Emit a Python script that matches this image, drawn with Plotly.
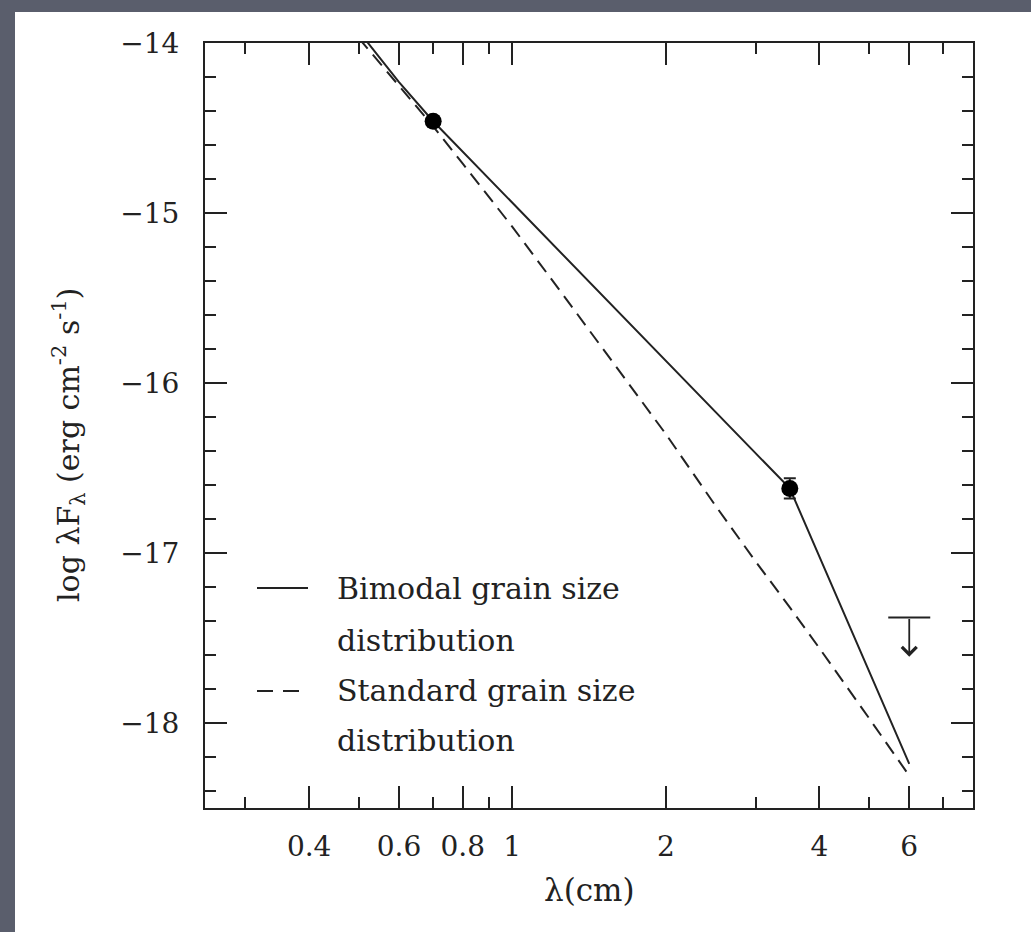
import math
import plotly.graph_objects as go

# ---------------- data ----------------
bimodal_x = [0.5, 0.6, 0.7, 1.0, 2.0, 3.5, 6.0]
bimodal_y = [-13.93, -14.23, -14.46, -14.94, -15.87, -16.62, -18.24]

standard_x = [0.5, 0.6, 0.7, 0.8, 1.0, 1.25, 1.5, 2.0, 2.5, 3.0, 3.5, 4.0, 5.0, 6.0]
standard_y = [-13.97, -14.25, -14.49, -14.71, -15.08, -15.47, -15.79, -16.30,
              -16.72, -17.05, -17.32, -17.56, -17.97, -18.31]

obs_x = [0.7, 3.5]
obs_y = [-14.46, -16.62]
obs_err = [0.03, 0.06]

limit_x = [6.0]
limit_y = [-17.38]
limit_arrow = 0.23

x_tick_vals = [0.4, 0.6, 0.8, 1, 2, 4, 6]
x_tick_text = ["0.4", "0.6", "0.8", "1", "2", "4", "6"]
x_minor_vals = [0.3, 0.5, 0.7, 0.9, 3, 5, 7]
y_tick_vals = [-14, -15, -16, -17, -18]
x_range = [0.25, 8.0]
y_range = [-18.5, -14.0]

legend_solid = ["Bimodal grain size", "distribution"]
legend_dash = ["Standard grain size", "distribution"]
x_title = "λ(cm)"
y_title = "log λF<sub>λ</sub> (erg cm<sup>-2</sup> s<sup>-1</sup>)"

# ---------------- layout geometry ----------------
W, H = 1031, 932
ML, MR, MT, MB = 205, 58, 43, 124
PW, PH = W - ML - MR, H - MT - MB


def px(xp):
    return (xp - ML) / PW


def py(yp):
    return (H - MB - yp) / PH


INK = "#222222"
FONT = "DejaVu Serif"

fig = go.Figure()

fig.add_trace(go.Scatter(x=standard_x, y=standard_y, mode="lines",
                         line=dict(color=INK, width=2, dash="14px,8px"),
                         showlegend=False, hoverinfo="skip"))
fig.add_trace(go.Scatter(x=bimodal_x, y=bimodal_y, mode="lines",
                         line=dict(color=INK, width=2),
                         showlegend=False, hoverinfo="skip"))
fig.add_trace(go.Scatter(x=obs_x, y=obs_y, mode="markers",
                         marker=dict(color="black", size=17),
                         error_y=dict(type="data", array=obs_err, color=INK,
                                      thickness=2, width=6),
                         showlegend=False))
fig.add_trace(go.Scatter(x=limit_x, y=limit_y, mode="markers",
                         marker=dict(symbol="line-ew", size=30,
                                     line=dict(color=INK, width=2)),
                         showlegend=False))

annotations = []
for lx, ly in zip(limit_x, limit_y):
    annotations.append(dict(
        x=math.log10(lx), y=ly - limit_arrow, ax=math.log10(lx), ay=ly,
        xref="x", yref="y", axref="x", ayref="y", text="",
        showarrow=True, arrowhead=4, arrowsize=1.6, arrowwidth=1.8,
        arrowcolor=INK, standoff=0, startstandoff=0))

# legend drawn by hand
legend_rows_y = [588, 640, 690, 740]
texts = legend_solid + legend_dash
for t, yy in zip(texts, legend_rows_y):
    annotations.append(dict(x=px(335), y=py(yy), xref="paper", yref="paper",
                            text=t, showarrow=False, xanchor="left",
                            yanchor="middle",
                            font=dict(family=FONT, size=30, color=INK)))

annotations.append(dict(x=px(589), y=py(890), xref="paper", yref="paper",
                        text=x_title, showarrow=False, xanchor="center",
                        yanchor="middle",
                        font=dict(family=FONT, size=31, color=INK)))
annotations.append(dict(x=px(68), y=py(445), xref="paper", yref="paper",
                        text=y_title, showarrow=False, xanchor="center",
                        yanchor="middle", textangle=-90,
                        font=dict(family=FONT, size=30, color=INK)))

shapes = [
    # white page on dark slide background
    dict(type="rect", xref="paper", yref="paper", layer="below",
         x0=px(15), x1=px(W + 5), y0=py(12), y1=py(H + 5),
         fillcolor="white", line=dict(width=0)),
    # legend samples
    dict(type="line", xref="paper", yref="paper",
         x0=px(257), x1=px(308), y0=py(588), y1=py(588),
         line=dict(color=INK, width=2)),
    dict(type="line", xref="paper", yref="paper",
         x0=px(257), x1=px(299), y0=py(691), y1=py(691),
         line=dict(color=INK, width=2, dash="16px,10px")),
]

axis_common = dict(showline=True, linewidth=2, linecolor=INK, mirror="allticks",
                   ticks="inside", tickwidth=2, tickcolor=INK, ticklen=22,
                   showgrid=False, zeroline=False,
                   tickfont=dict(family=FONT, size=28, color=INK))

fig.update_xaxes(type="log", range=[math.log10(x_range[0]), math.log10(x_range[1])],
                 tickmode="array", tickvals=x_tick_vals, ticktext=x_tick_text,
                 minor=dict(tickmode="array", tickvals=x_minor_vals, ticklen=11,
                            tickwidth=2, tickcolor=INK, ticks="inside", showgrid=False),
                 ticklabelstandoff=12, **axis_common)
fig.update_yaxes(range=y_range, tickmode="array", tickvals=y_tick_vals,
                 minor=dict(dtick=0.2, ticklen=11, tickwidth=2, tickcolor=INK,
                            ticks="inside", showgrid=False),
                 ticklabelstandoff=18, **axis_common)

fig.update_layout(width=W, height=H, margin=dict(l=ML, r=MR, t=MT, b=MB),
                  paper_bgcolor="#5a5e6c", plot_bgcolor="rgba(0,0,0,0)",
                  shapes=shapes, annotations=annotations, showlegend=False,
                  font=dict(family=FONT, color=INK))

fig.write_html("out.html")
